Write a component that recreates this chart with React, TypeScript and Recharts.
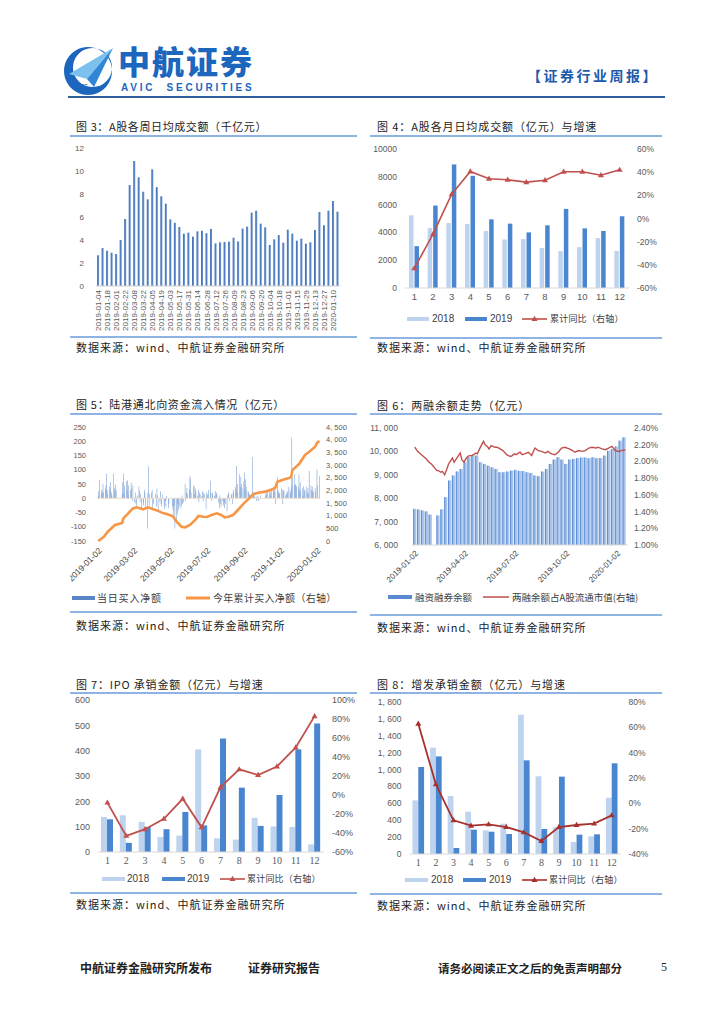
import React from 'react';
import { BarChart, ComposedChart, Bar, Line, XAxis, YAxis, ReferenceLine } from 'recharts';

const CJK = '"Noto Sans CJK SC", "Noto Sans", sans-serif';
const SANS = '"Liberation Sans", Arial, sans-serif';
const SERIF = '"Liberation Serif", "Times New Roman", serif';
const TICK = '#595959';
const RULE = '#8fb4e3';
const RED = '#c0504d';

// 图3 A股各周日均成交额（千亿元）
const weekLabels = [
  '2019-01-04', '2019-01-11', '2019-01-18', '2019-01-25', '2019-02-01', '2019-02-15', '2019-02-22', '2019-03-01',
  '2019-03-08', '2019-03-15', '2019-03-22', '2019-03-29', '2019-04-05', '2019-04-12', '2019-04-19', '2019-04-26',
  '2019-05-03', '2019-05-10', '2019-05-17', '2019-05-24', '2019-05-31', '2019-06-07', '2019-06-14', '2019-06-21',
  '2019-06-28', '2019-07-05', '2019-07-12', '2019-07-19', '2019-07-26', '2019-08-02', '2019-08-09', '2019-08-16',
  '2019-08-23', '2019-08-30', '2019-09-06', '2019-09-13', '2019-09-20', '2019-09-27', '2019-10-04', '2019-10-11',
  '2019-10-18', '2019-10-25', '2019-11-01', '2019-11-08', '2019-11-15', '2019-11-22', '2019-11-29', '2019-12-06',
  '2019-12-13', '2019-12-20', '2019-12-27', '2020-01-03', '2020-01-10', '2020-01-17',
];
const weeklyTurnover = [
  2.67, 3.3, 3.07, 2.9, 2.78, 4.0, 5.83, 8.78, 10.87, 9.45, 8.2, 7.54, 10.14, 8.6, 7.8, 7.16, 5.8, 5.5, 5.13, 4.55,
  4.64, 4.29, 4.75, 4.81, 4.6, 4.96, 3.71, 3.8, 3.83, 3.86, 4.2, 3.88, 4.99, 5.16, 6.38, 6.55, 5.42, 5.1, 3.57, 4.06,
  4.43, 3.77, 4.9, 4.55, 3.94, 4.12, 3.68, 3.8, 4.87, 6.43, 5.28, 6.55, 7.39, 6.46,
];

// 图4 A股各月日均成交额（亿元）与增速
const months = ['1', '2', '3', '4', '5', '6', '7', '8', '9', '10', '11', '12'];
const turnover2018 = [5230, 4310, 4670, 4600, 4100, 3490, 3520, 2870, 2650, 2940, 3590, 2670];
const turnover2019 = [3010, 5930, 8890, 8070, 4940, 4630, 4000, 4510, 5690, 4290, 4100, 5160];
const turnoverYoY = [-43, -13.5, 21, 40.6, 34.3, 33.4, 31.4, 33, 40.3, 40.3, 37.4, 42];

// 图5 陆港通北向资金（亿元）
const holidays = [
  '2019-01-01', '2019-02-04', '2019-02-05', '2019-02-06', '2019-02-07', '2019-02-08', '2019-04-05',
  '2019-05-01', '2019-05-02', '2019-05-03', '2019-06-07', '2019-09-13', '2019-10-01', '2019-10-02',
  '2019-10-03', '2019-10-04', '2019-10-07', '2020-01-01',
];
const northDaily = [
  // 1月
  10, 25, 65, 15, 30, 22, 51, 20, 34, 45, 86, 28, 15, 40, 30, 57, 20, 10, 86, 35, 22, 48,
  // 2月
  30, 16, 57, 86, 20, 45, 60, 28, 63, 10, 45, 28, 55, 35, -10,
  // 3月
  45, -15, 20, -19, -30, 10, 40, 26, -13, 15, -40, -16, -25, 30, 20, -30, -106, 20, 112, -25, 15,
  // 4月
  20, 30, -33, -20, 15, -28, 34, 10, -42, -15, 25, -20, -30, 12, -25, -38, -10, -30, 8, -35, -20,
  // 5月
  -30, -42, -60, -25, -106, -89, -54, -20, -42, -30, -35, -25, 10, -20, -15, 51, -10, 20, 35, 15,
  // 6月
  30, 77, 69, 20, 40, 45, 15, 34, 25, 10, 30, -13, 20, 15, 8, 25, -10, 20, 15,
  // 7月
  -39, 20, 10, 15, 30, 61, 20, -10, 15, 20, 10, 5, 25, 15, 20, -15, -35, 10, -20, -30, -10, -25, -15,
  // 8月
  -35, -20, -45, 10, 15, 20, -10, 15, 10, -20, 20, 30, 40, 30, 113, 50, 20, 84, 40, 75, 50, 35,
  // 9月
  60, 90, 30, 67, 40, 25, 20, 15, 10, 145, 20, 15, 5, 10, -10, 10, -5, 5, -10, 10,
  // 10月
  10, 20, 15, 30, 5, 25, 20, 10, 30, 25, 40, 30, 25, -21, 73, 30, 20, 15,
  // 11月
  20, 35, 30, -20, 25, 30, 10, 15, 25, 20, 40, 30, 20, 40, 213, 73, 45, 84, 50, 45, 40,
  // 12月
  40, 84, 30, 55, 20, 35, 10, 43, 30, 25, 40, 20, 35, 15, 96, 45, 30, 20, 40, 25, 35, 20,
  // 2020年1月
  101, 45, 77,
];
const northCumDates = [
  '2019-01-02', '2019-01-11', '2019-01-18', '2019-01-30', '2019-02-11', '2019-02-13', '2019-02-21', '2019-03-01',
  '2019-03-07', '2019-03-18', '2019-03-26', '2019-04-04', '2019-04-12', '2019-04-18', '2019-04-26', '2019-05-06',
  '2019-05-13', '2019-05-21', '2019-05-27', '2019-06-04', '2019-06-13', '2019-06-18', '2019-06-27', '2019-07-03',
  '2019-07-10', '2019-07-19', '2019-07-26', '2019-08-01', '2019-08-07', '2019-08-15', '2019-08-23', '2019-09-02',
  '2019-09-09', '2019-09-18', '2019-09-26', '2019-10-08', '2019-10-16', '2019-10-24', '2019-10-28', '2019-11-05',
  '2019-11-15', '2019-11-20', '2019-11-22', '2019-12-04', '2019-12-13', '2019-12-20', '2019-12-30', '2020-01-02',
  '2020-01-06',
];
const northCumValues = [
  0, 160, 367, 632, 715, 896, 1093, 1290, 1330, 1250, 1330, 1250, 1190, 1120, 1066, 987, 762, 565, 540, 632,
  829, 987, 960, 950, 1026, 1092, 1026, 934, 960, 1026, 1224, 1487, 1645, 1856, 1908, 1948, 2013, 2079, 2342, 2408,
  2474, 2530, 2800, 3066, 3395, 3527, 3724, 3875, 3940,
];
const northTicks = ['2019-01-02', '2019-03-02', '2019-05-02', '2019-07-02', '2019-09-02', '2019-11-02', '2020-01-02'];

// 图6 两融余额走势（亿元），按周
const marginWeeks = [
  '2018-12-31', '2019-01-07', '2019-01-14', '2019-01-21', '2019-01-28', '2019-02-11', '2019-02-18', '2019-02-25',
  '2019-03-04', '2019-03-11', '2019-03-18', '2019-03-25', '2019-04-01', '2019-04-08', '2019-04-15', '2019-04-22',
  '2019-04-29', '2019-05-06', '2019-05-13', '2019-05-20', '2019-05-27', '2019-06-03', '2019-06-10', '2019-06-17',
  '2019-06-24', '2019-07-01', '2019-07-08', '2019-07-15', '2019-07-22', '2019-07-29', '2019-08-05', '2019-08-12',
  '2019-08-19', '2019-08-26', '2019-09-02', '2019-09-09', '2019-09-16', '2019-09-23', '2019-09-30', '2019-10-07',
  '2019-10-14', '2019-10-21', '2019-10-28', '2019-11-04', '2019-11-11', '2019-11-18', '2019-11-25', '2019-12-02',
  '2019-12-09', '2019-12-16', '2019-12-23', '2019-12-30', '2020-01-06', '2020-01-13',
];
const marginBalance = [
  7546, 7520, 7478, 7435, 7300, 7265, 7520, 8045, 8755, 8970, 9140, 9250, 9535, 9750, 9850, 9820, 9535, 9465,
  9390, 9320, 9250, 9110, 9110, 9140, 9180, 9210, 9170, 9160, 9110, 9080, 8970, 8940, 9140, 9250, 9465, 9650,
  9750, 9650, 9465, 9650, 9680, 9710, 9740, 9740, 9710, 9750, 9710, 9710, 9820, 10030, 10100, 10215, 10460, 10600,
];
const ratioDates = [
  '2019-01-02', '2019-01-07', '2019-01-14', '2019-01-21', '2019-01-28', '2019-02-01', '2019-02-11', '2019-02-14',
  '2019-02-18', '2019-02-21', '2019-02-25', '2019-02-28', '2019-03-04', '2019-03-07', '2019-03-11', '2019-03-14',
  '2019-03-18', '2019-03-21', '2019-03-25', '2019-03-28', '2019-04-01', '2019-04-04', '2019-04-08', '2019-04-11',
  '2019-04-15', '2019-04-18', '2019-04-22', '2019-04-25', '2019-04-29', '2019-05-06', '2019-05-09', '2019-05-13',
  '2019-05-16', '2019-05-20', '2019-05-23', '2019-05-27', '2019-05-30', '2019-06-03', '2019-06-10', '2019-06-13',
  '2019-06-17', '2019-06-20', '2019-06-24', '2019-06-27', '2019-07-01', '2019-07-04', '2019-07-08', '2019-07-11',
  '2019-07-15', '2019-07-19', '2019-07-26', '2019-08-01', '2019-08-07', '2019-08-13', '2019-08-19', '2019-08-26',
  '2019-08-30', '2019-09-06', '2019-09-12', '2019-09-18', '2019-09-24', '2019-09-30', '2019-10-08', '2019-10-14',
  '2019-10-18', '2019-10-25', '2019-10-31', '2019-11-06', '2019-11-12', '2019-11-18', '2019-11-25', '2019-11-29',
  '2019-12-06', '2019-12-12', '2019-12-18', '2019-12-24', '2019-12-30', '2020-01-06', '2020-01-10', '2020-01-17',
];
const ratioValues = [
  2.17, 2.12, 2.08, 2.04, 1.99, 1.97, 1.89, 1.89, 1.87, 1.88, 1.84, 1.89, 1.97, 2.0, 2.04, 1.99, 2.03, 2.06, 2.1, 2.02,
  1.99, 2.03, 2.06, 2.07, 2.07, 2.08, 2.1, 2.09, 2.15, 2.24, 2.2, 2.18, 2.15, 2.19, 2.18, 2.17, 2.17, 2.16, 2.13, 2.11,
  2.08, 2.07, 2.06, 2.07, 2.09, 2.08, 2.1, 2.11, 2.08, 2.09, 2.11, 2.07, 2.16, 2.13, 2.12, 2.1, 2.12, 2.09, 2.08, 2.11,
  2.16, 2.17, 2.15, 2.13, 2.11, 2.13, 2.12, 2.13, 2.16, 2.17, 2.16, 2.17, 2.15, 2.14, 2.16, 2.18, 2.13, 2.12, 2.13, 2.14,
];
const marginTicks = ['2019-01-02', '2019-04-02', '2019-07-02', '2019-10-02', '2020-01-02'];

// 图7 IPO 承销金额（亿元）与增速
const ipo2018 = [138, 145, 119, 59, 65, 405, 54, 49, 135, 101, 99, 30];
const ipo2019 = [129, 36, 99, 90, 158, 105, 448, 254, 103, 225, 405, 507];
const ipoYoY = [-8, -43, -36, -25, -4, -34, 8, 27, 21, 30, 50, 83];

// 图8 增发承销金额（亿元）与增速
const seo2018 = [635, 1259, 687, 501, 280, 359, 1650, 920, 320, 142, 209, 667];
const seo2019 = [1030, 1156, 71, 288, 264, 237, 1109, 296, 916, 229, 233, 1074];
const seoYoY = [62.9, 15, -13.4, -17.6, -16.6, -18.7, -22.9, -29.7, -18.7, -17.1, -16, -9.5];

// ---- helpers ----
const BASE = Date.UTC(2019, 0, 2);
const DAY = 86400000;
const pad = (n: number) => (n < 10 ? '0' + n : '' + n);
const dayOf = (s: string) => {
  const [y, m, d] = s.split('-').map(Number);
  return Math.round((Date.UTC(y, m - 1, d) - BASE) / DAY);
};
const fmtDay = (n: number) => {
  const t = new Date(BASE + n * DAY);
  return `${t.getUTCFullYear()}-${pad(t.getUTCMonth() + 1)}-${pad(t.getUTCDate())}`;
};
// "4, 500" style, with a no-break space so the tick is not wrapped
const comma = (v: number) => v.toLocaleString('en-US').replace(',', ',\u00a0');

const tradingDays: string[] = [];
for (let n = 0; n <= 370; n++) {
  const wd = new Date(BASE + n * DAY).getUTCDay();
  const s = fmtDay(n);
  if (wd === 0 || wd === 6 || holidays.includes(s)) continue;
  tradingDays.push(s);
}

function mergeRows(parts: [number, string, number][]) {
  const map = new Map<number, any>();
  parts.forEach(([x, k, v]) => {
    if (!map.has(x)) map.set(x, { x });
    map.get(x)[k] = v;
  });
  return [...map.values()].sort((a, b) => a.x - b.x);
}

const fig3Rows = weekLabels.map((w, i) => ({ w, v: weeklyTurnover[i] }));
const fig4Rows = months.map((m, i) => ({ m, a: turnover2018[i], b: turnover2019[i], c: turnoverYoY[i] }));
const fig7Rows = months.map((m, i) => ({ m, a: ipo2018[i], b: ipo2019[i], c: ipoYoY[i] }));
const fig8Rows = months.map((m, i) => ({ m, a: seo2018[i], b: seo2019[i], c: seoYoY[i] }));

const fig5Rows = mergeRows([
  ...northDaily.map((v, i) => [dayOf(tradingDays[i]), 'daily', v] as [number, string, number]),
  ...northCumDates.map((d, i) => [dayOf(d), 'cum', northCumValues[i]] as [number, string, number]),
]);
const fig6Rows = mergeRows([
  ...marginWeeks.map((d, i) => [dayOf(d) + 2, 'bal', marginBalance[i]] as [number, string, number]),
  ...ratioDates.map((d, i) => [dayOf(d), 'ratio', ratioValues[i]] as [number, string, number]),
]);

// ---- small pieces ----
const VertTick = (p: any) => (
  <text x={p.x} y={p.y} dy="0.35em" transform={`rotate(-90 ${p.x} ${p.y})`} textAnchor="end"
    fontSize={8} fill={TICK} fontFamily={SANS}>{p.payload.value}</text>
);
const diagTick = (fs: number) => (p: any) => (
  <text x={p.x} y={p.y} dy="0.7em" transform={`rotate(-45 ${p.x} ${p.y})`} textAnchor="end"
    fontSize={fs} fill="#404040" fontFamily={SANS}>{fmtDay(p.payload.value)}</text>
);
const TriDot = (p: any) => {
  const { cx, cy } = p;
  if (cx == null || cy == null) return null;
  return <path d={`M${cx},${cy - 3.2}L${cx + 3},${cy + 2}L${cx - 3},${cy + 2}Z`} fill={p.stroke || RED} />;
};
// weekly margin bar: ~one trading week wide, darker left edge
const MarginBar = (p: any) => {
  const { x, y, width, height } = p;
  if (height == null || !(height > 0)) return null;
  const cx = x + width / 2;
  return (
    <g>
      <rect x={cx - 1.6} y={y} width={3.2} height={height} fill="#a8c4ea" />
      <rect x={cx - 1.6} y={y} width={1.1} height={height} fill="#5f8fd3" />
    </g>
  );
};

const Rule = ({ x, y, w, c = RULE, h = 1.6 }: any) => (
  <div style={{ position: 'absolute', left: x, top: y - h / 2, width: w, height: h, background: c }} />
);
const Text = ({ x, y, t, size = 11, ls = 0.8, font = CJK, color = '#222', weight = 400 }: any) => (
  <div style={{ position: 'absolute', left: x, top: y - 8, lineHeight: '16px', fontSize: size, letterSpacing: ls,
    fontFamily: font, color, fontWeight: weight, whiteSpace: 'pre' }}>{t}</div>
);
const Swatch = ({ x, y, w = 23, h = 4, c }: any) => (
  <div style={{ position: 'absolute', left: x, top: y - h / 2, width: w, height: h, background: c }} />
);
const LineKey = ({ x, y, w, c, sw, tri }: any) => (
  <svg style={{ position: 'absolute', left: x, top: y - 5 }} width={w} height={10}>
    <line x1={0} y1={5} x2={w} y2={5} stroke={c} strokeWidth={sw} />
    {tri && <path d={`M${w / 2},1.8L${w / 2 + 3},7L${w / 2 - 3},7Z`} fill={c} />}
  </svg>
);
const tickStyle = (size: number, font = SANS) => ({ fontSize: size, fill: TICK, fontFamily: font });
const pct = (v: number) => `${v}%`;

function Header() {
  return (
    <>
      <svg style={{ position: 'absolute', left: 63, top: 44 }} width={52} height={54}>
        <path fillRule="evenodd" fill="#1c66bd"
          d="M25,3 A24,24 0 1,0 25.01,3 Z M29.5,4 A19.5,19.5 0 1,0 29.51,4 Z" />
        <path d="M6,30 L50,4 L24,35 Z" fill="#7cc0ee" />
        <path d="M24,35 L50,4 L31,43 Z" fill="#2f86d6" />
        <text x={13} y={44} fontSize={5} fontWeight="bold" fill="#1c66bd" fontFamily={SANS}>AVIC</text>
      </svg>
      <div style={{ position: 'absolute', left: 118, top: 42, fontSize: 32, lineHeight: '36px', fontWeight: 900,
        letterSpacing: 2, color: '#1c66bd', fontFamily: CJK }}>中航证券</div>
      <div style={{ position: 'absolute', left: 121, top: 82, fontSize: 10, lineHeight: '11px', fontWeight: 700,
        letterSpacing: 2.8, color: '#1c66bd', fontFamily: SANS, whiteSpace: 'pre' }}>AVIC  SECURITIES</div>
      <div style={{ position: 'absolute', left: 527, top: 66, fontSize: 14, lineHeight: '18px', fontWeight: 700,
        letterSpacing: 2.5, color: '#1c5bab', fontFamily: CJK }}>【证券行业周报】</div>
      <Rule x={68} y={97} w={597} c="#2f5f9e" h={2} />
    </>
  );
}

export default function App() {
  return (
    <div style={{ position: 'absolute', left: 0, top: 0, width: 724, height: 1024, background: '#fff', overflow: 'hidden' }}>
      <Header />

      {/* 图3 */}
      <Text x={76} y={126} t="图 3：A股各周日均成交额（千亿元）" ls={0.6} />
      <Rule x={70} y={136} w={287} />
      <div style={{ position: 'absolute', left: 70, top: 140 }}>
        <BarChart width={280} height={200} data={fig3Rows} margin={{ top: 8, right: 10, bottom: 0, left: 0 }} barCategoryGap="24%">
          <defs>
            <linearGradient id="g3" x1="0" y1="0" x2="1" y2="0">
              <stop offset="0" stopColor="#3a6ab3" />
              <stop offset="1" stopColor="#6d98d4" />
            </linearGradient>
          </defs>
          <XAxis dataKey="w" interval={1} tickLine={false} tickSize={0} tickMargin={4} axisLine={{ stroke: '#d0d0d0' }}
            height={54} tick={VertTick} />
          <YAxis domain={[0, 12]} ticks={[0, 2, 4, 6, 8, 10, 12]} interval={0} width={26} axisLine={false} tickLine={false}
            tickSize={0} tickMargin={12} tick={tickStyle(8)} />
          <Bar dataKey="v" fill="url(#g3)" isAnimationActive={false} />
        </BarChart>
      </div>
      <Rule x={70} y={337} w={287} />
      <Text x={76} y={347} t="数据来源：wind、中航证券金融研究所" ls={1} />

      {/* 图4 */}
      <Text x={377} y={126} t="图 4：A股各月日均成交额（亿元）与增速" ls={0.9} />
      <Rule x={370} y={136} w={292} />
      <div style={{ position: 'absolute', left: 365, top: 140 }}>
        <ComposedChart width={300} height={168} data={fig4Rows} margin={{ top: 9, right: 0, bottom: 0, left: 0 }} barGap={1}>
          <XAxis dataKey="m" interval={0} tickLine={false} tickSize={0} tickMargin={5} axisLine={{ stroke: '#d9d9d9' }}
            height={20} tick={tickStyle(9.5)} />
          <YAxis yAxisId="l" domain={[0, 10000]} ticks={[0, 2000, 4000, 6000, 8000, 10000]} interval={0} width={40} axisLine={false}
            tickLine={false} tickSize={0} tickMargin={8} tick={tickStyle(8.5)} />
          <YAxis yAxisId="r" orientation="right" domain={[-60, 60]} ticks={[-60, -40, -20, 0, 20, 40, 60]} interval={0} width={36}
            axisLine={false} tickLine={false} tickSize={0} tickMargin={8} tick={tickStyle(8.5)} tickFormatter={pct} />
          <Bar yAxisId="l" dataKey="a" fill="#bdd3ee" barSize={4.5} isAnimationActive={false} />
          <Bar yAxisId="l" dataKey="b" fill="#4a86d0" barSize={4.5} isAnimationActive={false} />
          <Line yAxisId="r" dataKey="c" stroke={RED} strokeWidth={1.6} dot={TriDot} activeDot={false} isAnimationActive={false} />
        </ComposedChart>
      </div>
      <Swatch x={407} y={319} w={22} c="#bdd3ee" />
      <Text x={432} y={319} t="2018" size={10} ls={0} font={SANS} color="#404040" />
      <Swatch x={465} y={319} w={22} c="#4a86d0" />
      <Text x={490} y={319} t="2019" size={10} ls={0} font={SANS} color="#404040" />
      <LineKey x={522} y={319} w={25} c={RED} sw={1.6} tri />
      <Text x={550} y={319} t="累计同比（右轴）" size={9} ls={0.2} color="#404040" />
      <Rule x={370} y={338} w={292} />
      <Text x={377} y={347} t="数据来源：wind、中航证券金融研究所" ls={1} />

      {/* 图5 */}
      <Text x={76} y={404} t="图 5：陆港通北向资金流入情况（亿元）" ls={0.7} />
      <Rule x={70} y={414} w={287} />
      <div style={{ position: 'absolute', left: 70, top: 420 }}>
        <ComposedChart width={290} height={172} data={fig5Rows} margin={{ top: 7, right: 0, bottom: 0, left: 0 }}>
          <XAxis dataKey="x" type="number" domain={[-2, 370]} allowDataOverflow ticks={northTicks.map(dayOf)} interval={0}
            tickLine={false} tickSize={0} tickMargin={6} axisLine={false} height={51} tick={diagTick(8.5)} />
          <YAxis yAxisId="l" domain={[-150, 250]} ticks={[-150, -100, -50, 0, 50, 100, 150, 200, 250]} interval={0} width={27}
            axisLine={false} tickLine={false} tickSize={0} tickMargin={11} tick={tickStyle(7.5)} />
          <YAxis yAxisId="r" orientation="right" domain={[0, 4500]} ticks={[0, 500, 1000, 1500, 2000, 2500, 3000, 3500, 4000, 4500]}
            interval={0} width={40} axisLine={false} tickLine={false} tickSize={0} tickMargin={6} tick={tickStyle(7.5)}
            tickFormatter={comma} />
          <ReferenceLine yAxisId="l" y={0} stroke="#ecdcc8" strokeWidth={1.2} />
          <Bar yAxisId="l" dataKey="daily" fill="#7099d0" barSize={1} isAnimationActive={false} />
          <Line yAxisId="r" dataKey="cum" stroke="#f79646" strokeWidth={2.6} dot={false} activeDot={false} connectNulls
            isAnimationActive={false} />
        </ComposedChart>
      </div>
      <Swatch x={72} y={598} w={23} h={3.5} c="#5a86c6" />
      <Text x={97} y={598} t="当日买入净额" size={10} ls={0.8} color="#404040" />
      <LineKey x={186} y={598} w={24} c="#f79646" sw={3} />
      <Text x={213} y={598} t="今年累计买入净额（右轴）" size={10} ls={0.3} color="#404040" />
      <Rule x={70} y={612} w={287} />
      <Text x={76} y={625} t="数据来源：wind、中航证券金融研究所" ls={1} />

      {/* 图6 */}
      <Text x={377} y={405} t="图 6：两融余额走势（亿元）" ls={0.9} />
      <Rule x={370} y={414} w={292} />
      <div style={{ position: 'absolute', left: 365, top: 420 }}>
        <ComposedChart width={300} height={172} data={fig6Rows} margin={{ top: 8, right: 0, bottom: 0, left: 0 }}>
          <XAxis dataKey="x" type="number" domain={[-5, 385]} allowDataOverflow ticks={marginTicks.map(dayOf)} interval={0}
            tickLine={false} tickSize={0} tickMargin={5} axisLine={{ stroke: '#d9d9d9' }} height={47} tick={diagTick(8)} />
          <YAxis yAxisId="l" domain={[6000, 11000]} ticks={[6000, 7000, 8000, 9000, 10000, 11000]} interval={0} width={47}
            axisLine={false} tickLine={false} tickSize={0} tickMargin={14} tick={tickStyle(8.5)} tickFormatter={comma} />
          <YAxis yAxisId="r" orientation="right" domain={[1, 2.4]} ticks={[1, 1.2, 1.4, 1.6, 1.8, 2, 2.2, 2.4]} interval={0}
            width={37} axisLine={false} tickLine={false} tickSize={0} tickMargin={6} tick={tickStyle(8.5)}
            tickFormatter={(v: number) => `${v.toFixed(2)}%`} />
          <Bar yAxisId="l" dataKey="bal" fill="#a8c4ea" barSize={3} shape={MarginBar} isAnimationActive={false} />
          <Line yAxisId="r" dataKey="ratio" stroke={RED} strokeWidth={1.4} dot={false} activeDot={false} connectNulls
            isAnimationActive={false} />
        </ComposedChart>
      </div>
      <Swatch x={388} y={597} w={24} h={4} c="#5a89cf" />
      <Text x={415} y={597} t="融资融券余额" size={9.5} ls={0} color="#404040" />
      <LineKey x={483} y={597} w={26} c={RED} sw={1.5} />
      <Text x={512} y={597} t="两融余额占A股流通市值(右轴)" size={9.5} ls={0} color="#404040" />
      <Rule x={370} y={615} w={292} />
      <Text x={377} y={627} t="数据来源：wind、中航证券金融研究所" ls={1} />

      {/* 图7 */}
      <Text x={76} y={684} t="图 7：IPO 承销金额（亿元）与增速" ls={0.8} />
      <Rule x={70} y={693} w={287} />
      <div style={{ position: 'absolute', left: 70, top: 692 }}>
        <ComposedChart width={290} height={180} data={fig7Rows} margin={{ top: 8, right: 0, bottom: 0, left: 0 }} barGap={0}>
          <XAxis dataKey="m" interval={0} tickLine={false} tickSize={0} tickMargin={5} axisLine={{ stroke: '#d9d9d9' }}
            height={20} tick={tickStyle(10, SERIF)} />
          <YAxis yAxisId="l" domain={[0, 600]} ticks={[0, 100, 200, 300, 400, 500, 600]} interval={0} width={28} axisLine={false}
            tickLine={false} tickSize={0} tickMargin={8} tick={tickStyle(9)} />
          <YAxis yAxisId="r" orientation="right" domain={[-60, 100]} ticks={[-60, -40, -20, 0, 20, 40, 60, 80, 100]} interval={0}
            width={36} axisLine={false} tickLine={false} tickSize={0} tickMargin={8} tick={tickStyle(9)} tickFormatter={pct} />
          <Bar yAxisId="l" dataKey="a" fill="#bdd3ee" barSize={6} isAnimationActive={false} />
          <Bar yAxisId="l" dataKey="b" fill="#4a86d0" barSize={6} isAnimationActive={false} />
          <Line yAxisId="r" dataKey="c" stroke={RED} strokeWidth={1.8} dot={TriDot} activeDot={false} isAnimationActive={false} />
        </ComposedChart>
      </div>
      <Swatch x={102} y={879} w={23} c="#bdd3ee" />
      <Text x={127} y={879} t="2018" size={10} ls={0} font={SANS} color="#404040" />
      <Swatch x={162} y={879} w={23} c="#4a86d0" />
      <Text x={187} y={879} t="2019" size={10} ls={0} font={SANS} color="#404040" />
      <LineKey x={220} y={879} w={25} c={RED} sw={1.6} tri />
      <Text x={247} y={879} t="累计同比（右轴）" size={9} ls={0.2} color="#404040" />
      <Rule x={70} y={893} w={287} />
      <Text x={76} y={904} t="数据来源：wind、中航证券金融研究所" ls={1} />

      {/* 图8 */}
      <Text x={377} y={684} t="图 8：增发承销金额（亿元）与增速" ls={0.9} />
      <Rule x={370} y={693} w={292} />
      <div style={{ position: 'absolute', left: 365, top: 692 }}>
        <ComposedChart width={300} height={182} data={fig8Rows} margin={{ top: 10, right: 0, bottom: 0, left: 0 }} barGap={0}>
          <XAxis dataKey="m" interval={0} tickLine={false} tickSize={0} tickMargin={5} axisLine={{ stroke: '#d9d9d9' }}
            height={20} tick={tickStyle(10, SERIF)} />
          <YAxis yAxisId="l" domain={[0, 1800]} ticks={[0, 200, 400, 600, 800, 1000, 1200, 1400, 1600, 1800]} interval={0}
            width={44.5} axisLine={false} tickLine={false} tickSize={0} tickMargin={8} tick={tickStyle(8.5)} tickFormatter={comma} />
          <YAxis yAxisId="r" orientation="right" domain={[-40, 80]} ticks={[-40, -20, 0, 20, 40, 60, 80]} interval={0} width={44.5}
            axisLine={false} tickLine={false} tickSize={0} tickMargin={8} tick={tickStyle(8.5)} tickFormatter={pct} />
          <Bar yAxisId="l" dataKey="a" fill="#bdd3ee" barSize={5.8} isAnimationActive={false} />
          <Bar yAxisId="l" dataKey="b" fill="#4a86d0" barSize={5.8} isAnimationActive={false} />
          <Line yAxisId="r" dataKey="c" stroke="#a8312f" strokeWidth={1.8} dot={TriDot} activeDot={false} isAnimationActive={false} />
        </ComposedChart>
      </div>
      <Swatch x={405} y={880} w={23} c="#bdd3ee" />
      <Text x={431} y={880} t="2018" size={10} ls={0} font={SANS} color="#404040" />
      <Swatch x={463} y={880} w={23} c="#4a86d0" />
      <Text x={489} y={880} t="2019" size={10} ls={0} font={SANS} color="#404040" />
      <LineKey x={522} y={880} w={25} c="#a8312f" sw={1.6} tri />
      <Text x={549} y={880} t="累计同比（右轴）" size={9} ls={0.2} color="#404040" />
      <Rule x={370} y={894} w={292} />
      <Text x={377} y={905} t="数据来源：wind、中航证券金融研究所" ls={1} />

      {/* 页脚 */}
      <Text x={80} y={968} t="中航证券金融研究所发布" size={12} ls={0} weight={700} color="#222" />
      <Text x={248} y={968} t="证券研究报告" size={12} ls={0} weight={700} color="#222" />
      <Text x={438} y={968} t="请务必阅读正文之后的免责声明部分" size={11.5} ls={0} weight={700} color="#222" />
      <Text x={661} y={967} t="5" size={12} ls={0} font={SERIF} color="#222" />
    </div>
  );
}
